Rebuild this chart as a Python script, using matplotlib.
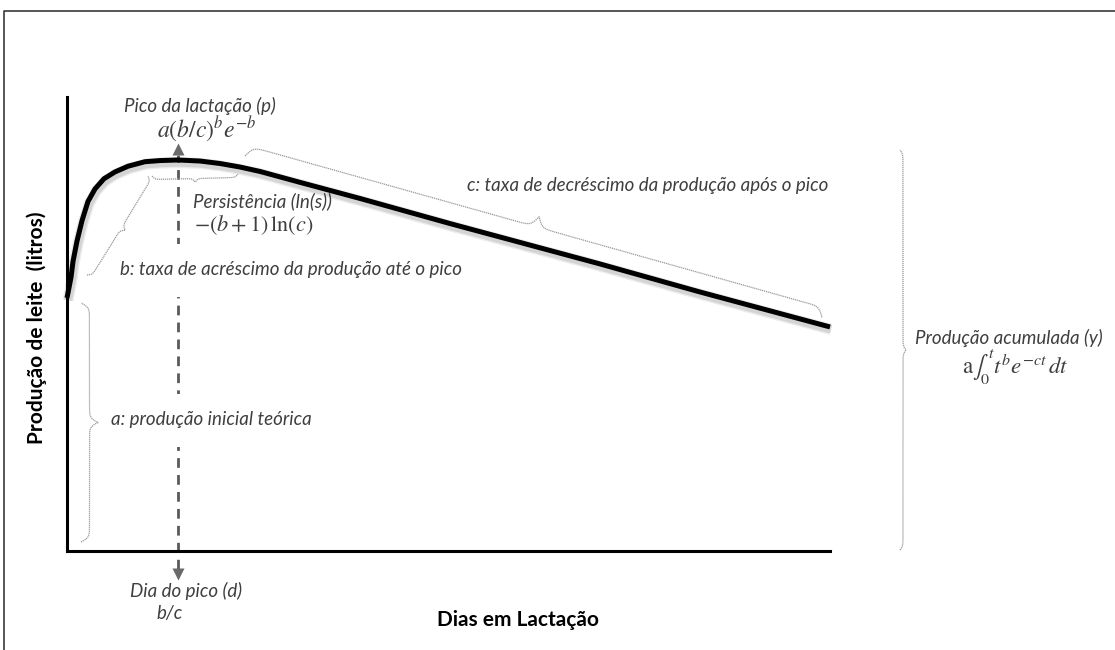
import numpy as np
import matplotlib
matplotlib.use("Agg")
import matplotlib.pyplot as plt

# Wood lactation curve (days, litres)
days = [0, 0.8, 1.6, 2.4, 4.0, 6.0, 8.4, 11.2, 14.8, 19.2, 24.4, 31.2, 37.2,
        44.4, 53.2, 61.2, 69.2, 77.2, 93.2, 117.2, 153.2, 213.2, 253.2, 305.2]
milk = [22.3, 23.2, 24.1, 25.5, 27.3, 29.1, 30.8, 31.9, 32.8, 33.4, 33.9, 34.3,
        34.4, 34.45, 34.36, 34.14, 33.83, 33.44, 32.48, 31.06, 28.85, 25.29,
        22.82, 19.74]

X_MAX, Y_MAX = 305, 40

W, H = 1115, 650
TXT = "#3f3f3f"
BRACE = "#9a9a9a"
SANS = "Lato"

plt.rcParams["mathtext.fontset"] = "stix"

fig = plt.figure(figsize=(W / 100, H / 100), dpi=100)
fig.patch.set_facecolor("white")

# main axes: pixel box (67,97)-(829.5,551)
ax = fig.add_axes([67 / W, (H - 551) / H, (829.5 - 67) / W, (551 - 97) / H])
ax.set_xlim(0, X_MAX)
ax.set_ylim(0, Y_MAX)
ax.set_xticks([])
ax.set_yticks([])
for s in ("top", "right"):
    ax.spines[s].set_visible(False)
for s in ("left", "bottom"):
    ax.spines[s].set_linewidth(2.2)
    ax.spines[s].set_color("black")
ax.patch.set_alpha(0)

# soft shadow + curve
for lw, a in ((8, 0.07), (6, 0.10)):
    ax.plot(np.array(days) + 0.4, np.array(milk) - 0.22, color="black", lw=lw,
            alpha=a, solid_capstyle="butt", clip_on=False, zorder=3)
ax.plot(days, milk, color="black", lw=3.6, solid_capstyle="butt",
        solid_joinstyle="round", zorder=4, clip_on=False)

# dashed peak-day arrow
i_pk = int(np.argmax(milk))
d_pk = days[i_pk]
ax.plot([d_pk, d_pk], [-1.6, 34.9], color="#5a5a5a", lw=2, dashes=(3.5, 2.6),
        clip_on=False, zorder=2)
ax.plot([d_pk], [35.4], marker="^", ms=9, color="#6a6a6a", clip_on=False,
        zorder=2, mec="none")
ax.plot([d_pk], [-2.05], marker="v", ms=9, color="#6a6a6a", clip_on=False,
        zorder=2, mec="none")

# overlay in pixel coordinates (origin top-left)
ov = fig.add_axes([0, 0, 1, 1])
ov.set_xlim(0, W)
ov.set_ylim(H, 0)
ov.axis("off")
ov.patch.set_alpha(0)

# page frame
ov.plot([4, 4, W], [H, 11, 11], color="#3a3a3a", lw=1.2)


def brace(p0, p1, w, k=0.5):
    p0 = np.asarray(p0, float)
    p1 = np.asarray(p1, float)
    v = p1 - p0
    L = np.hypot(*v)
    u = v / L
    n = np.array([-u[1], u[0]])
    s = np.linspace(0, L / 2, 200)
    y = 1 / (1 + np.exp(-k * s)) + 1 / (1 + np.exp(-k * (s - L / 2))) - 0.5
    y = np.concatenate([y, y[-2::-1]])
    s = np.concatenate([s, L - s[-2::-1]])
    pts = p0[None, :] + s[:, None] * u[None, :] + (w * y)[:, None] * n[None, :]
    ov.plot(pts[:, 0], pts[:, 1], color=BRACE, lw=0.9, ls=(0, (1, 0.6)),
            zorder=6)


brace((81, 542), (81, 303), 17, k=0.45)      # a: initial production
brace((87, 275), (148, 176), 9, k=0.6)       # b: rise to peak
brace((152, 176), (238, 174), 7, k=0.7)      # persistence
brace((245, 156), (822, 318), -21, k=0.35)   # c: decline after peak
brace((900, 550), (900, 150), 6, k=0.5)      # y: cumulative production

it = dict(family=SANS, style="italic", color=TXT, fontsize=13.5)
wb = dict(facecolor="white", edgecolor="none", pad=13)

ov.text(200, 106, "Pico da lactação (p)", ha="center", va="center", **it)
ov.text(207, 129, r"$a(b/c)^{b}e^{-b}$", ha="center", va="center",
        color=TXT, fontsize=17)
ov.text(193, 201, "Persistência (ln(s))", ha="left", va="center", **it)
ov.text(194, 225, r"$-(b+1)\,\mathrm{ln}(c)$", ha="left", va="center",
        color=TXT, fontsize=16)
ov.text(120, 270, "b: taxa de acréscimo da produção até o pico", ha="left",
        va="center", bbox=wb, zorder=5, **it)
ov.text(467, 185, "c: taxa de decréscimo da produção após o pico", ha="left",
        va="center", **it)
ov.text(111, 420, "a: produção inicial teórica", ha="left", va="center",
        bbox=wb, zorder=5, **it)
ov.text(186, 591, "Dia do pico (d)", ha="center", va="center", **it)
ov.text(170, 613, "b/c", ha="center", va="center", **it)
ov.text(1009, 338, "Produção acumulada (y)", ha="center", va="center", **it)
ov.text(1015, 367, r"$\mathrm{a}\int_0^t t^{b}e^{-ct}\,dt$", ha="center",
        va="center", color=TXT, fontsize=16.5)

ov.text(518, 620, "Dias em Lactação", ha="center", va="center",
        family=SANS, weight="bold", fontsize=15, color="black")
ov.text(37, 328, "Produção de leite  (litros)", ha="center", va="center",
        rotation=90, family=SANS, weight="bold", fontsize=15, color="black")

fig.savefig("out.png", dpi=100, facecolor="white")
